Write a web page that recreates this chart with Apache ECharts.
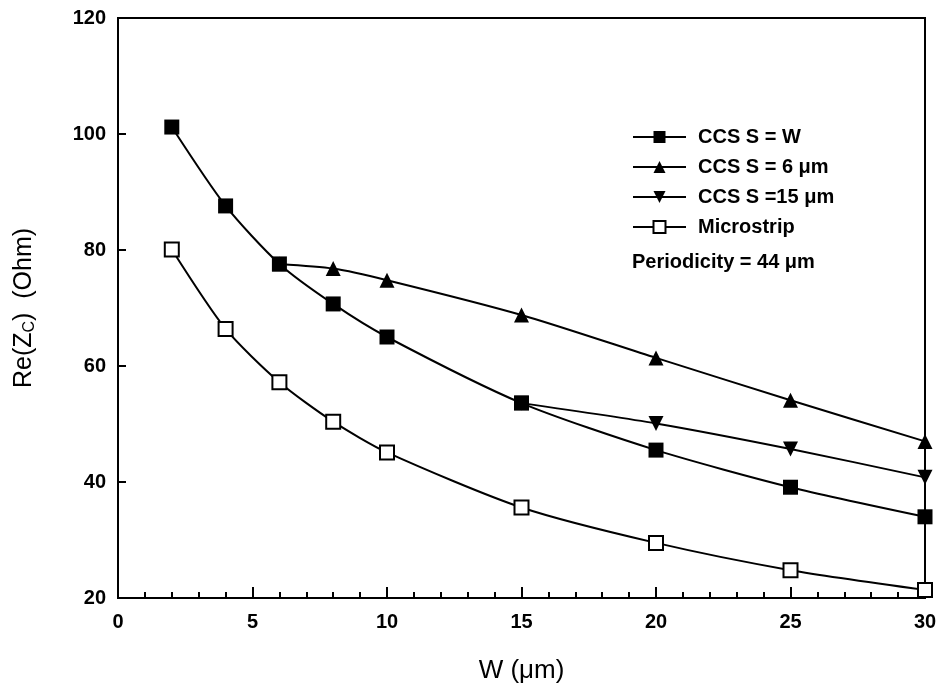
<!DOCTYPE html>
<html>
<head>
<meta charset="utf-8">
<script src="https://cdn.jsdelivr.net/npm/echarts@6/dist/echarts.min.js"></script>
<style>
  html, body { margin: 0; padding: 0; background: #fff; }
  #main { width: 940px; height: 693px; }
</style>
</head>
<body>
<div id="main"></div>
<script>
// W (um) values for each curve
const wAll = [2, 4, 6, 8, 10, 15, 20, 25, 30];
const ccsSW = [101.2, 87.6, 77.6, 70.7, 65.0, 53.6, 45.5, 39.1, 34.0];
const wS6 = [6, 8, 10, 15, 20, 25, 30];
const ccsS6 = [77.6, 76.8, 74.8, 68.8, 61.4, 54.1, 47.0];
const wS15 = [15, 20, 25, 30];
const ccsS15 = [53.6, 50.1, 45.7, 40.8];
const microstrip = [80.1, 66.4, 57.2, 50.4, 45.1, 35.6, 29.5, 24.8, 21.4];
const seriesNames = ['CCS S = W', 'CCS S = 6 \u03bcm', 'CCS S =15 \u03bcm', 'Microstrip'];

const pairs = (xs, ys) => xs.map((x, i) => [x, ys[i]]);
const font = 'Liberation Sans, Arial, sans-serif';

let chart = echarts.init(document.getElementById('main'));

function line (name, data, symbol, size, fill) {
  return {
    name: name,
    type: 'line',
    data: data,
    smooth: 0.25,
    symbol: symbol,
    symbolSize: size,
    lineStyle: { color: '#000', width: 2 },
    itemStyle: { color: fill, borderColor: '#000', borderWidth: fill === '#fff' ? 2 : 0 },
    z: 3
  };
}

chart.setOption({
  animation: false,
  grid: {
    left: 118, top: 18, right: 15, bottom: 95,
    show: true, borderColor: '#000', borderWidth: 2
  },
  legend: {
    orient: 'vertical',
    left: 627, top: 122,
    itemWidth: 53, itemHeight: 15, itemGap: 10,
    textStyle: { fontFamily: font, fontWeight: 'bold', fontSize: 20, color: '#000', padding: [0, 0, 0, 7] },
    data: seriesNames
  },
  graphic: [{
    type: 'text', left: 632, top: 252,
    style: { text: 'Periodicity = 44 \u03bcm', font: 'bold 20px ' + font, fill: '#000' }
  }],
  xAxis: {
    type: 'value', min: 0, max: 30, interval: 5,
    name: 'W (\u03bcm)', nameLocation: 'middle', nameGap: 60,
    nameTextStyle: { fontFamily: font, fontSize: 26, color: '#000' },
    axisLine: { lineStyle: { color: '#000', width: 2 } },
    axisTick: { inside: true, length: 11, lineStyle: { color: '#000', width: 2 } },
    minorTick: { show: true, splitNumber: 5, length: 6, lineStyle: { color: '#000', width: 2 } },
    axisLabel: { fontFamily: font, fontWeight: 'bold', fontSize: 20, color: '#000', margin: 14 },
    splitLine: { show: false }
  },
  yAxis: {
    type: 'value', min: 20, max: 120, interval: 20,
    name: '{a|Re(Z}{s|C}{a|)  (Ohm)}', nameLocation: 'middle', nameGap: 80,
    nameTextStyle: {
      rich: {
        a: { fontFamily: font, fontSize: 25, color: '#000' },
        s: { fontFamily: font, fontSize: 16, color: '#000', padding: [12, 0, 0, 0] }
      }
    },
    axisLine: { lineStyle: { color: '#000', width: 2 } },
    axisTick: { inside: true, length: 8, lineStyle: { color: '#000', width: 2 } },
    axisLabel: { fontFamily: font, fontWeight: 'bold', fontSize: 20, color: '#000', margin: 12 },
    splitLine: { show: false }
  },
  series: [
    line(seriesNames[0], pairs(wAll, ccsSW), 'rect', 15, '#000'),
    line(seriesNames[1], pairs(wS6, ccsS6), 'triangle', 15, '#000'),
    line(seriesNames[2], pairs(wS15, ccsS15), 'path://M0,0L10,0L5,10Z', 15, '#000'),
    line(seriesNames[3], pairs(wAll, microstrip), 'rect', 14, '#fff')
  ]
});
</script>
</body>
</html>
